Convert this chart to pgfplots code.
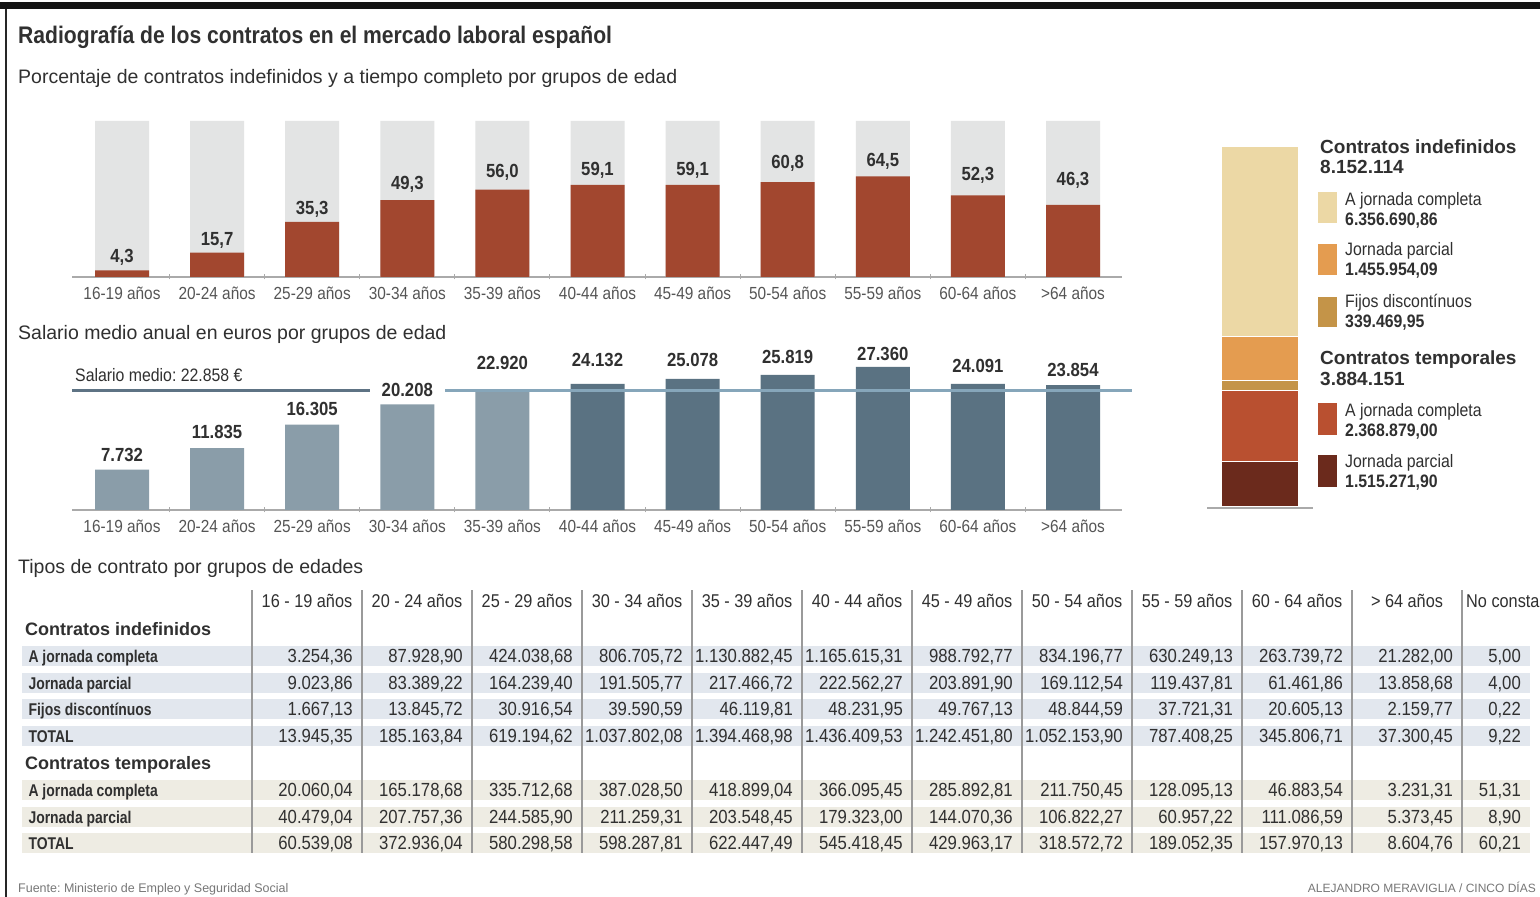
\documentclass[border=0pt]{standalone}
\usepackage{pgfplots}
\pgfplotsset{compat=1.18}
\usepackage{pgfplotstable}
\usepackage{fontspec}
\setmainfont{Liberation Sans}
\newfontfamily\condA{Liberation Sans}[FakeStretch=0.88]
\newfontfamily\condB{Liberation Sans}[FakeStretch=0.82]
\newcommand\fs[1]{\fontsize{#1pt}{#1pt}\selectfont}
\frenchspacing

\definecolor{txt}{HTML}{303030}
\definecolor{etiq}{HTML}{555555}
\definecolor{fondogris}{HTML}{E3E4E4}
\definecolor{rojo}{HTML}{A2472F}
\definecolor{salclaro}{HTML}{8A9DA9}
\definecolor{saloscuro}{HTML}{5A7282}
\definecolor{lineaclara}{HTML}{86A6BA}
\definecolor{lineaosc}{HTML}{5E7384}
\definecolor{crema}{HTML}{ECD8A5}
\definecolor{naranja}{HTML}{E49C50}
\definecolor{fijos}{HTML}{C49448}
\definecolor{tempc}{HTML}{B95030}
\definecolor{tempp}{HTML}{6B2A1C}
\definecolor{bandaind}{HTML}{E2E7EE}
\definecolor{bandatem}{HTML}{EEECE3}
\definecolor{ejegris}{HTML}{AAAAAA}
\definecolor{separador}{HTML}{9A9A9A}
\definecolor{pie}{HTML}{777777}

% porcentaje de contratos indefinidos y a tiempo completo
\pgfplotstableread{
x fondo pct off
0 100 4.3 13.3
1 100 15.7 12.5
2 100 35.3 12.9
3 100 49.3 16.1
4 100 56.0 17.6
5 100 59.1 14.8
6 100 59.1 14.8
7 100 60.8 19.2
8 100 64.5 15.4
9 100 52.3 20.4
10 100 46.3 24.8
}\pctdata

% salario medio anual (por debajo / por encima de la media)
\pgfplotstableread{
x sal off
0 7732 14.6
1 11835 16.1
2 16305 15.7
3 20208 14.3
4 22920 27.1
}\salbajo
\pgfplotstableread{
x sal off
5 24132 23.8
6 25078 18.8
7 25819 18.0
8 27360 12.9
9 24091 18.0
10 23854 15.2
}\salalto

\pgfplotsset{
  edades/.style={
    scale only axis, width=1050pt, xmin=-0.5258, xmax=10.5152, ymin=0,
    ybar, bar width=54pt, bar shift=0pt, clip=false,
    axis y line=none, axis x line*=bottom,
    axis line style={ejegris, line width=1.6pt},
    xtick={0,...,10},
    xticklabels={16-19 años,20-24 años,25-29 años,30-34 años,35-39 años,40-44 años,45-49 años,50-54 años,55-59 años,60-64 años,>64 años},
    minor x tick num=1, major tick length=0pt, minor tick length=5pt, tick align=center,
    minor tick style={ejegris, line width=1pt},
    xticklabel style={font=\condA\fs{17.5}, text=etiq, inner sep=0pt, text height=13pt, text depth=0pt, anchor=north, yshift=-9pt},
  },
}
\tikzset{valor/.style={font=\condA\bfseries\fs{19}, text=txt, anchor=center, inner sep=0pt, yshift=\off pt}}

\newcommand\fila[3]{%
  \node[anchor=base west, font=\condB\bfseries\fs{17}, text=txt] at (25pt,#1pt) {#2};
  \foreach \v [count=\i from 0] in {#3} {
    \pgfmathsetmacro\xx{\i<11 ? 353+110*\i : 1521}
    \node[anchor=base east, inner sep=0pt, font=\condA\fs{19}, text=txt] at (\xx pt,#1pt) {\v};
  }%
}

\begin{document}
\begin{tikzpicture}
\fill[white] (0,0) rectangle (1540pt,897pt);
\useasboundingbox (0,0) rectangle (1540pt,897pt);

% marco
\fill[black!92] (0,888pt) rectangle (1540pt,895pt);
\draw[black!85, line width=2pt] (6pt,0) -- (6pt,888pt);

% titulos
\node[anchor=base west, inner sep=0pt, font=\condA\bfseries\fs{24}, text=txt] at (18pt,853pt) {Radiografía de los contratos en el mercado laboral español};
\node[anchor=base west, inner sep=0pt, font=\fs{19.5}, text=txt] at (18pt,813pt) {Porcentaje de contratos indefinidos y a tiempo completo por grupos de edad};
\node[anchor=base west, inner sep=0pt, font=\fs{19.5}, text=txt] at (18pt,557pt) {Salario medio anual en euros por grupos de edad};
\node[anchor=base west, inner sep=0pt, font=\fs{19.5}, text=txt] at (18pt,323pt) {Tipos de contrato por grupos de edades};

% grafico 1: porcentaje
\begin{axis}[edades, height=156pt, ymax=100, at={(72pt,620pt)}, anchor=south west]
\addplot[fill=fondogris, draw=none, bar shift=0pt] table[x=x, y=fondo] {\pctdata};
\addplot[fill=rojo, draw=none, bar shift=0pt,
  visualization depends on={\thisrow{off} \as \off},
  nodes near coords={\pgfmathprintnumber[fixed,fixed zerofill,precision=1,use comma,assume math mode=true]{\pgfplotspointmeta}},
  every node near coord/.append style={valor}] table[x=x, y=pct] {\pctdata};
\end{axis}

% grafico 2: salario medio
\begin{axis}[edades, height=156.9pt, ymax=30000, at={(72pt,387pt)}, anchor=south west]
\addplot[fill=salclaro, draw=none, bar shift=0pt,
  visualization depends on={\thisrow{off} \as \off},
  nodes near coords={\pgfmathprintnumber[fixed,precision=0,1000 sep={.},assume math mode=true]{\pgfplotspointmeta}},
  every node near coord/.append style={valor}] table[x=x, y=sal] {\salbajo};
\addplot[fill=saloscuro, draw=none, bar shift=0pt,
  visualization depends on={\thisrow{off} \as \off},
  nodes near coords={\pgfmathprintnumber[fixed,precision=0,1000 sep={.},assume math mode=true]{\pgfplotspointmeta}},
  every node near coord/.append style={valor}] table[x=x, y=sal] {\salalto};
\draw[lineaosc, line width=2.5pt] (axis cs:-0.5258,22858) -- (axis cs:2.61,22858);
\draw[lineaclara, line width=2.5pt] (axis cs:3.40,22858) -- (axis cs:10.62,22858);
\end{axis}
\node[anchor=base west, inner sep=0pt, font=\condA\fs{18}, text=txt] at (75pt,515.5pt) {Salario medio: 22.858 €};

% grafico 3: total de contratos apilado
\begin{axis}[scale only axis, width=106pt, height=361pt, at={(1207pt,390pt)}, anchor=south west,
  ybar stacked, bar width=78pt, xmin=-0.7, xmax=0.7, ymin=0, ymax=12036265,
  axis lines=none, clip=false]
\addplot[fill=tempp, draw=white, line width=1.5pt] coordinates {(0,1515271.90)};
\addplot[fill=tempc, draw=white, line width=1.5pt] coordinates {(0,2368879.00)};
\addplot[fill=fijos, draw=white, line width=1.5pt] coordinates {(0,339469.95)};
\addplot[fill=naranja, draw=white, line width=1.5pt] coordinates {(0,1455954.09)};
\addplot[fill=crema, draw=white, line width=1.5pt] coordinates {(0,6356690.86)};
\end{axis}
\draw[ejegris, line width=1.6pt] (1207pt,389pt) -- (1313pt,389pt);

% leyenda
\begin{scope}[every node/.style={anchor=base west, inner sep=0pt, text=txt}]
\node[font=\bfseries\fs{19}] at (1320pt,743pt) {Contratos indefinidos};
\node[font=\bfseries\fs{19}] at (1320pt,723pt) {8.152.114};
\fill[crema] (1318pt,674pt) rectangle (1337pt,705pt);
\node[font=\condA\fs{18}] at (1345pt,691.5pt) {A jornada completa};
\node[font=\condA\bfseries\fs{18}] at (1345pt,671.5pt) {6.356.690,86};
\fill[naranja] (1318pt,622pt) rectangle (1337pt,653pt);
\node[font=\condA\fs{18}] at (1345pt,641.5pt) {Jornada parcial};
\node[font=\condA\bfseries\fs{18}] at (1345pt,621.5pt) {1.455.954,09};
\fill[fijos] (1318pt,570pt) rectangle (1337pt,600pt);
\node[font=\condA\fs{18}] at (1345pt,589.5pt) {Fijos discontínuos};
\node[font=\condA\bfseries\fs{18}] at (1345pt,569.5pt) {339.469,95};
\node[font=\bfseries\fs{19}] at (1320pt,532pt) {Contratos temporales};
\node[font=\bfseries\fs{19}] at (1320pt,511pt) {3.884.151};
\fill[tempc] (1318pt,462pt) rectangle (1337pt,494pt);
\node[font=\condA\fs{18}] at (1345pt,480.5pt) {A jornada completa};
\node[font=\condA\bfseries\fs{18}] at (1345pt,460.5pt) {2.368.879,00};
\fill[tempp] (1318pt,410pt) rectangle (1337pt,442pt);
\node[font=\condA\fs{18}] at (1345pt,429.5pt) {Jornada parcial};
\node[font=\condA\bfseries\fs{18}] at (1345pt,409.5pt) {1.515.271,90};
\end{scope}

% tabla
\foreach \c in {241,214,188,161} {\fill[bandaind] (22pt,\c pt-10pt) rectangle (1530pt,\c pt+10pt);}
\foreach \c in {107,80,54} {\fill[bandatem] (22pt,\c pt-10pt) rectangle (1530pt,\c pt+10pt);}
\foreach \k in {0,...,11} {\draw[separador, line width=1.3pt] (252pt+\k*110pt,44pt) -- (252pt+\k*110pt,307pt);}
\foreach \h [count=\i from 0] in {16 - 19 años,20 - 24 años,25 - 29 años,30 - 34 años,35 - 39 años,40 - 44 años,45 - 49 años,50 - 54 años,55 - 59 años,60 - 64 años,> 64 años} {
  \node[anchor=base, inner sep=0pt, font=\condA\fs{18.5}, text=txt] at (307pt+\i*110pt,289.5pt) {\h};
}
\node[anchor=base west, inner sep=0pt, font=\condA\fs{18.5}, text=txt] at (1466pt,289.5pt) {No consta};
\node[anchor=base west, inner sep=0pt, font=\bfseries\fs{18}, text=txt] at (25pt,261.5pt) {Contratos indefinidos};
\fila{234.5}{A jornada completa}{{3.254,36},{87.928,90},{424.038,68},{806.705,72},{1.130.882,45},{1.165.615,31},{988.792,77},{834.196,77},{630.249,13},{263.739,72},{21.282,00},{5,00}}
\fila{207.5}{Jornada parcial}{{9.023,86},{83.389,22},{164.239,40},{191.505,77},{217.466,72},{222.562,27},{203.891,90},{169.112,54},{119.437,81},{61.461,86},{13.858,68},{4,00}}
\fila{181.5}{Fijos discontínuos}{{1.667,13},{13.845,72},{30.916,54},{39.590,59},{46.119,81},{48.231,95},{49.767,13},{48.844,59},{37.721,31},{20.605,13},{2.159,77},{0,22}}
\fila{154.5}{TOTAL}{{13.945,35},{185.163,84},{619.194,62},{1.037.802,08},{1.394.468,98},{1.436.409,53},{1.242.451,80},{1.052.153,90},{787.408,25},{345.806,71},{37.300,45},{9,22}}
\node[anchor=base west, inner sep=0pt, font=\bfseries\fs{18}, text=txt] at (25pt,127.5pt) {Contratos temporales};
\fila{100.5}{A jornada completa}{{20.060,04},{165.178,68},{335.712,68},{387.028,50},{418.899,04},{366.095,45},{285.892,81},{211.750,45},{128.095,13},{46.883,54},{3.231,31},{51,31}}
\fila{73.5}{Jornada parcial}{{40.479,04},{207.757,36},{244.585,90},{211.259,31},{203.548,45},{179.323,00},{144.070,36},{106.822,27},{60.957,22},{111.086,59},{5.373,45},{8,90}}
\fila{47.5}{TOTAL}{{60.539,08},{372.936,04},{580.298,58},{598.287,81},{622.447,49},{545.418,45},{429.963,17},{318.572,72},{189.052,35},{157.970,13},{8.604,76},{60,21}}

% pie
\node[anchor=base west, inner sep=0pt, font=\fs{12.5}, text=pie] at (18pt,4pt) {Fuente: Ministerio de Empleo y Seguridad Social};
\node[anchor=base east, inner sep=0pt, font=\fs{12}, text=pie] at (1536pt,4pt) {ALEJANDRO MERAVIGLIA / CINCO DÍAS};
\end{tikzpicture}
\end{document}
